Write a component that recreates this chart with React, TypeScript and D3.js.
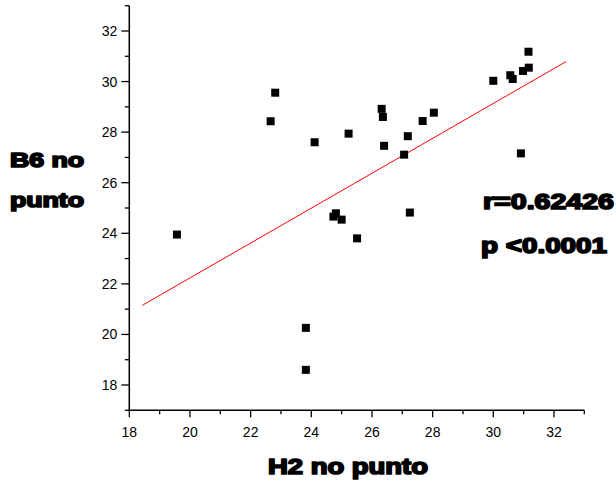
import React from "react";
import * as d3 from "d3";

const xValues = [31.16, 31.17, 30.98, 30.56, 30.64, 30.0, 26.32, 26.36, 28.04, 27.67, 25.23, 24.11, 27.18, 26.4, 27.06, 30.91, 22.81, 22.66, 19.57, 23.82, 23.82, 24.73, 24.81, 25.0, 25.51, 27.25];
const yValues = [31.18, 30.55, 30.42, 30.25, 30.1, 30.03, 28.92, 28.6, 28.77, 28.44, 27.94, 27.6, 27.84, 27.46, 27.11, 27.16, 29.56, 28.43, 23.95, 20.26, 18.6, 24.66, 24.79, 24.54, 23.8, 24.82];
const fitX = [18.43, 32.4];
const fitY = [21.15, 30.79];
const xTicks = [18, 20, 22, 24, 26, 28, 30, 32];
const yTicks = [18, 20, 22, 24, 26, 28, 30, 32];
const xMinor = [19, 21, 23, 25, 27, 29, 31, 33];
const yMinor = [17, 19, 21, 23, 25, 27, 29, 31, 33];

const W = 616;
const H = 483;

export default function App() {
  const x = d3.scaleLinear().domain([18, 33]).range([129.3, 584.3]);
  const y = d3.scaleLinear().domain([17, 33]).range([410.3, 5.7]);
  const line = d3.line<number>().x((_, i) => x(fitX[i])).y((d) => y(d));
  const axisColor = "#000";
  const font = "'Liberation Sans', Arial, sans-serif";
  const x0 = x(18);
  const y0 = y(17);
  return (
    <svg width={W} height={H} style={{ position: "absolute", left: 0, top: 0, background: "#fff" }}>
      <rect x={0} y={0} width={W} height={H} fill="#fff" />
      <line x1={x0} x2={x0} y1={y(33)} y2={y0} stroke={axisColor} strokeWidth={1.5} />
      <line x1={x0} x2={x(33)} y1={y0} y2={y0} stroke={axisColor} strokeWidth={1.5} />
      {yTicks.map((t) => (
        <g key={"yt" + t}>
          <line x1={x0 - 8} x2={x0} y1={y(t)} y2={y(t)} stroke={axisColor} strokeWidth={1.3} />
          <text x={x0 - 12} y={y(t)} dy="0.36em" textAnchor="end" fontFamily={font} fontSize={14} fill="#000">{t}</text>
        </g>
      ))}
      {yMinor.map((t) => (
        <line key={"ym" + t} x1={x0 - 4.5} x2={x0} y1={y(t)} y2={y(t)} stroke={axisColor} strokeWidth={1.3} />
      ))}
      {xTicks.map((t) => (
        <g key={"xt" + t}>
          <line x1={x(t)} x2={x(t)} y1={y0} y2={y0 + 7} stroke={axisColor} strokeWidth={1.3} />
          <text x={x(t)} y={437} textAnchor="middle" fontFamily={font} fontSize={14} fill="#000">{t}</text>
        </g>
      ))}
      {xMinor.map((t) => (
        <line key={"xm" + t} x1={x(t)} x2={x(t)} y1={y0} y2={y0 + 4} stroke={axisColor} strokeWidth={1.3} />
      ))}
      <path d={line(fitY) || ""} fill="none" stroke="#ff0000" strokeWidth={1} />
      {xValues.map((v, i) => (
        <rect key={"p" + i} x={x(v) - 4} y={y(yValues[i]) - 4} width={8} height={8} fill="#000" />
      ))}
      <g fontFamily={font} fontWeight="bold" fill="#000" stroke="#000" strokeWidth={1.7} strokeLinejoin="round">
        <text x={10} y={167} fontSize={20} textLength={74} lengthAdjust="spacingAndGlyphs">B6 no</text>
        <text x={10} y={207} fontSize={20} textLength={74} lengthAdjust="spacingAndGlyphs">punto</text>
        <text x={268} y={474} fontSize={22} textLength={160} lengthAdjust="spacingAndGlyphs">H2 no punto</text>
        <text x={483} y={209} fontSize={22} textLength={131} lengthAdjust="spacingAndGlyphs">r=0.62426</text>
        <text x={481} y={253} fontSize={22} textLength={126} lengthAdjust="spacingAndGlyphs">p &lt;0.0001</text>
      </g>
    </svg>
  );
}
